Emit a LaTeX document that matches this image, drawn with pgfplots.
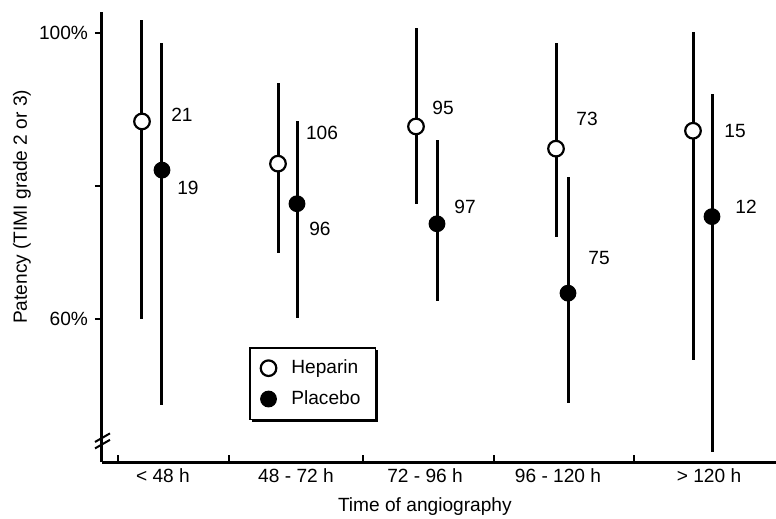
\documentclass[border=0pt]{standalone}
\usepackage{fontspec}
\setmainfont{Liberation Sans}
\usepackage{pgfplots}
\usepackage{pgfplotstable}
\pgfplotsset{compat=1.18}
\usetikzlibrary{shadows}
\newcommand\fs{\fontsize{9.6}{11.5}\selectfont}

% x = horizontal position (group layout), y = patency %, hi/lo = interval ends
\pgfplotstableread{
x   y     hi     lo
142 87.6  101.8  60.0
278 81.7  93.0   69.2
416 86.9  100.6  76.1
556 83.8  98.5   71.5
693 86.3  100.1  54.3
}\heparin
\pgfplotstableread{
x   y     hi     lo
162 80.8  98.6   48.0
297 76.1  87.6   60.1
437 73.3  85.0   62.5
568 63.6  79.9   48.3
712 74.3  91.5   41.4
}\placebo
% patient counts beside each point
\pgfplotstableread{
x   y     n
182 88.5  21
188 78.3  19
322 86.0  106
320 72.6  96
443 89.5  95
465 75.7  97
587 88.0  73
599 68.5  75
735 86.3  15
746 75.7  12
}\counts

\begin{document}
\begin{tikzpicture}[font=\fs]
\useasboundingbox (-51bp,-28.5bp) rectangle (337bp,231bp);
\begin{axis}[
  scale only axis, width=337bp, height=225bp,
  xmin=102, xmax=776, ymin=40, ymax=102.9,
  clip=false,
  axis x line*=bottom, axis y line*=left,
  axis line style={line width=1.5bp},
  tick align=inside, major tick length=3.5bp,
  tick style={line width=1.2bp, black},
  y tick style={xshift=-3.5bp},
  xtick={118,229,363,494,634}, xticklabels={},
  extra x ticks={163,296,425,558,709},
  extra x tick labels={< 48 h,48 - 72 h,72 - 96 h,96 - 120 h,> 120 h},
  extra x tick style={major tick length=0pt},
  ytick={60,78.6,100}, yticklabels={60\%,,100\%},
  yticklabel style={xshift=-3.5bp},
  xlabel={Time of angiography},
  xlabel style={at={(axis description cs:0.479,0)}, anchor=center, yshift=-22.5bp},
  ylabel={Patency (TIMI grade 2 or 3)},
  ylabel style={at={(axis description cs:-0.1187,0.567)}, anchor=center},
  legend cell align=left,
  legend style={at={(axis description cs:0.218,0.2556)}, anchor=north west,
    draw=black, line width=0.8bp, fill=white, inner xsep=5.5bp, inner ysep=4bp,
    row sep=3bp, font=\fs,
    /tikz/every odd column/.append style={column sep=5.5bp},
    drop shadow={shadow xshift=1.2bp, shadow yshift=-1.2bp, fill=black, opacity=1}},
]
% intervals first so the markers sit on top
\addplot[only marks, mark=none, forget plot,
  error bars/.cd, y dir=both, y explicit, error mark=none,
  error bar style={line width=1.5bp, black}]
  table[x=x, y=y, y error plus expr=\thisrow{hi}-\thisrow{y},
        y error minus expr=\thisrow{y}-\thisrow{lo}] {\heparin};
\addplot[only marks, mark=none, forget plot,
  error bars/.cd, y dir=both, y explicit, error mark=none,
  error bar style={line width=1.5bp, black}]
  table[x=x, y=y, y error plus expr=\thisrow{hi}-\thisrow{y},
        y error minus expr=\thisrow{y}-\thisrow{lo}] {\placebo};
\addplot[only marks, mark=*, mark size=3.9bp,
  mark options={draw=black, fill=white, line width=1.1bp}]
  table[x=x, y=y] {\heparin};
\addlegendentry{Heparin}
\addplot[only marks, mark=*, mark size=3.9bp,
  mark options={draw=black, fill=black, line width=0.6bp}]
  table[x=x, y=y] {\placebo};
\addlegendentry{Placebo}
\addplot[only marks, mark=none, forget plot, nodes near coords,
  point meta=explicit symbolic,
  nodes near coords style={anchor=center, font=\fs}]
  table[x=x, y=y, meta=n] {\counts};
% axis break
\draw[line width=1bp] (axis cs:95,42.8) -- (axis cs:110,44.0);
\draw[line width=1bp] (axis cs:95,41.9) -- (axis cs:110,43.1);
\end{axis}
\end{tikzpicture}
\end{document}
